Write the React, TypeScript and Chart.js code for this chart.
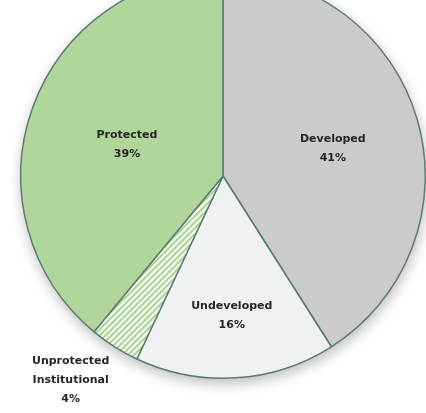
import React, { useEffect, useRef } from "react";
import { Chart, registerables } from "chart.js";

Chart.register(...registerables);

const categories = ["Developed", "Undeveloped", "Unprotected\nInstitutional", "Protected"];
const shares = [41, 16, 4, 39];
const labelRadius = [0.56, 0.69, 1.26, 0.5];
const labelAngleShiftDeg = [2, 0, 4.3, -1.5];

function makeHatch(): CanvasPattern | string {
  const c = document.createElement("canvas");
  c.width = 6;
  c.height = 6;
  const g = c.getContext("2d");
  if (!g) return "#d8ecc9";
  g.fillStyle = "#f3f8ef";
  g.fillRect(0, 0, 6, 6);
  g.strokeStyle = "#a6d18c";
  g.lineWidth = 1.8;
  g.beginPath();
  g.moveTo(-1, 7);
  g.lineTo(7, -1);
  g.moveTo(-1, 1);
  g.lineTo(1, -1);
  g.moveTo(5, 7);
  g.lineTo(7, 5);
  g.stroke();
  const p = g.createPattern(c, "repeat");
  return p || "#d8ecc9";
}

const shadowPlugin = {
  id: "pieShadow",
  beforeDatasetsDraw(chart: any) {
    const arc = chart.getDatasetMeta(0).data[0];
    if (!arc) return;
    const { x, y, outerRadius } = arc.getProps(["x", "y", "outerRadius"], true);
    const ctx = chart.ctx;
    ctx.save();
    ctx.shadowColor = "rgba(0,0,0,0.28)";
    ctx.shadowBlur = 14;
    ctx.shadowOffsetX = 1;
    ctx.shadowOffsetY = 5;
    ctx.fillStyle = "#ffffff";
    ctx.beginPath();
    ctx.arc(x, y, outerRadius, 0, Math.PI * 2);
    ctx.fill();
    ctx.restore();
  },
};

const labelPlugin = {
  id: "sliceLabels",
  afterDatasetsDraw(chart: any) {
    const ctx = chart.ctx;
    const meta = chart.getDatasetMeta(0);
    ctx.save();
    ctx.font = "bold 11px 'DejaVu Sans', sans-serif";
    ctx.fillStyle = "#262626";
    ctx.textAlign = "center";
    ctx.textBaseline = "middle";
    meta.data.forEach((arc: any, i: number) => {
      const { x, y, startAngle, endAngle, outerRadius } = arc.getProps(
        ["x", "y", "startAngle", "endAngle", "outerRadius"],
        true
      );
      const mid = (startAngle + endAngle) / 2 + (labelAngleShiftDeg[i] * Math.PI) / 180;
      const r = outerRadius * labelRadius[i];
      const cx = x + Math.cos(mid) * r;
      const cy = y + Math.sin(mid) * r;
      const lines = [...categories[i].split("\n"), shares[i] + "%"];
      const lh = 19;
      const top = cy - ((lines.length - 1) * lh) / 2;
      lines.forEach((t, k) => ctx.fillText(t, cx, top + k * lh));
    });
    ctx.restore();
  },
};

export default function App() {
  const ref = useRef<HTMLCanvasElement>(null);
  useEffect(() => {
    if (!ref.current) return;
    const hatch = makeHatch();
    const chart = new Chart(ref.current, {
      type: "pie",
      data: {
        labels: categories,
        datasets: [
          {
            data: shares,
            backgroundColor: ["#cbcbcb", "#f0f1f3", hatch as any, "#b0d69b"],
            borderColor: "#5c7b74",
            borderWidth: 1.5,
          },
        ],
      },
      options: {
        responsive: false,
        animation: false,
        devicePixelRatio: 1,
        layout: { padding: { left: 20, right: 0, top: 0, bottom: 34 } },
        plugins: { legend: { display: false }, tooltip: { enabled: false } },
      },
      plugins: [shadowPlugin, labelPlugin],
    });
    return () => chart.destroy();
  }, []);
  return (
    <div style={{ position: "fixed", left: 0, top: -27, width: 426, height: 440 }}>
      <canvas ref={ref} width={426} height={440} style={{ display: "block" }} />
    </div>
  );
}
